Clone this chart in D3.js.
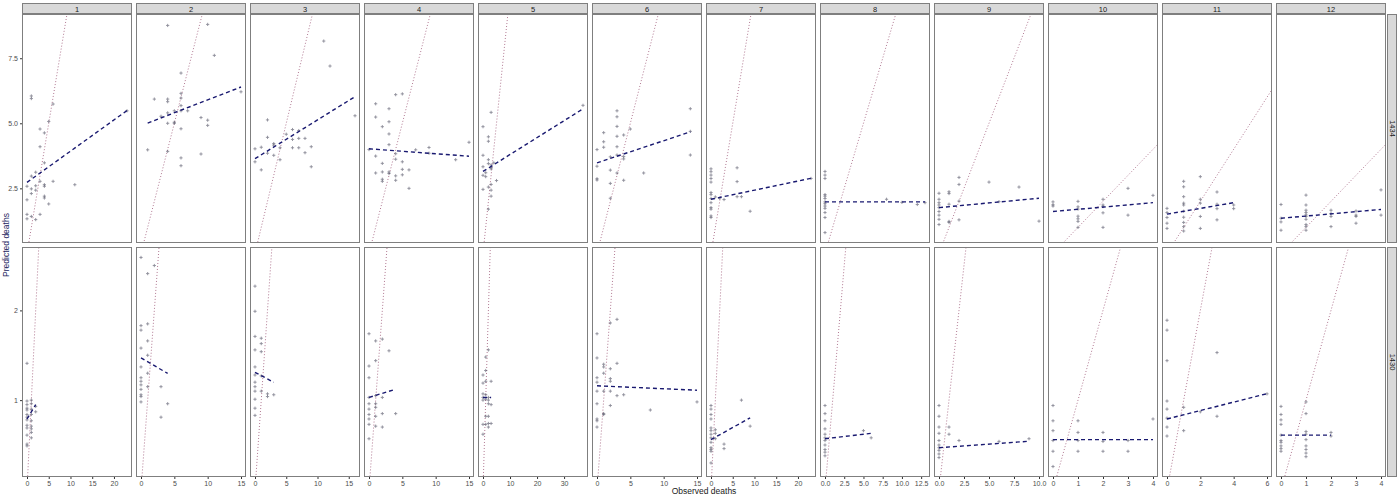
<!DOCTYPE html>
<html>
<head>
<meta charset="utf-8">
<script src="https://cdn.jsdelivr.net/npm/d3@7"></script>
<style>
  body { margin: 0; background: #fff; }
  text { font-family: "Liberation Sans", Arial, sans-serif; }
</style>
</head>
<body>
<svg id="chart" width="1400" height="497"></svg>
<script>
// facet labels
const columns = ["1", "2", "3", "4", "5", "6", "7", "8", "9", "10", "11", "12"];
const rowLabels = ["1434", "1430"];

// tick labels
const xTickLabels = [
  ["0", "5", "10", "15", "20"], ["0", "5", "10", "15"], ["0", "5", "10", "15"], ["0", "5", "10", "15"],
  ["0", "10", "20", "30"], ["0", "5", "10", "15"], ["0", "5", "10", "15", "20"], ["0.0", "2.5", "5.0", "7.5", "10.0", "12.5"],
  ["0.0", "2.5", "5.0", "7.5", "10.0"], ["0", "1", "2", "3", "4"], ["0", "2", "4", "6"], ["0", "1", "2", "3", "4"]
];
const yTickLabels = [["2.5", "5.0", "7.5"], ["1", "2"]];

// points, grouped as [observed, [predicted...]]
const topPoints = [
  [[0, [2.58, 2.06, 1.5, 1.33]], [1, [6.05, 5.95, 2.97, 2.48, 2.3, 1.42]], [2, [3.12, 2.6, 2.43, 1.3]], [3, [4.78, 4.1, 2.77, 1.5]], [4, [4.63, 3.48, 2.64, 2.58, 2.2, 2.13]], [5, [5.07, 1.9]], [6, [5.74, 2.77]], [11, [2.64]], [23, [5.48]]],
  [[1, [3.98]], [2, [5.93]], [3, [5.27]], [4, [8.76, 5.93, 5.83, 5.4, 5.0, 3.92]], [5, [5.48, 5.04, 5.0]], [6, [6.93, 6.15, 5.97, 5.68, 5.48, 4.79, 3.67, 3.37]], [7, [5.48]], [9, [5.22, 3.82]], [10, [8.8, 5.12, 4.92]], [11, [7.61]], [15, [6.21]]],
  [[0, [4.02, 3.52]], [1, [4.08, 3.21]], [2, [5.13, 4.46, 3.85]], [3, [4.22, 4.16, 3.77]], [4, [4.06, 3.6]], [5, [4.58]], [6, [4.76, 4.38, 4.06]], [7, [4.72, 4.42, 4.06]], [8, [4.42, 3.87]], [9, [4.1, 3.33]], [11, [8.16]], [12, [7.2]], [16, [5.29]]],
  [[0, [3.99]], [1, [5.75, 5.24, 3.74, 3.09]], [2, [4.87, 3.46, 3.13, 2.85, 2.77]], [3, [5.56, 5.06, 4.59, 4.18, 3.13, 3.07]], [4, [6.1, 3.83, 3.62, 2.98, 2.81]], [5, [6.13, 3.52, 3.23, 3.02]], [6, [3.21, 2.5]], [7, [3.98]], [9, [4.07, 3.85]], [13, [3.6]], [15, [4.27]]],
  [[0, [4.87, 3.77, 3.33, 3.0, 2.46]], [1, [3.1, 2.95]], [2, [4.48, 4.31, 3.6, 3.45, 2.55, 1.7]], [3, [5.42, 3.4, 3.3, 3.25, 2.65, 2.43, 2.2]], [4, [3.48]], [5, [2.8]], [37, [5.69]]],
  [[0, [3.99, 3.35, 2.87, 2.82]], [1, [4.64, 4.29, 4.08]], [2, [3.71, 3.2, 2.69, 2.12]], [3, [5.48, 5.25, 4.88, 4.5, 4.1, 3.78, 3.09]], [4, [4.55, 3.72, 3.63, 2.81]], [5, [4.78]], [7, [3.09]], [14, [5.56, 4.69, 3.78]]],
  [[0, [3.25, 3.14, 3.01, 2.88, 2.74, 2.34, 2.26, 2.11, 1.95, 1.76, 1.7, 1.44, 1.38]], [1, [2.17]], [2, [2.12]], [3, [2.07]], [6, [3.29, 2.76, 2.18]], [7, [2.18]], [9, [1.62]], [23, [2.88]]],
  [[0, [3.15, 3.01, 2.88, 2.26, 2.2, 2.11, 1.98, 1.91, 1.82, 1.73, 1.57, 1.38, 0.8]], [8, [2.08]], [10, [1.96]], [12, [1.88]], [13, [1.95]]],
  [[0, [2.31, 2.08, 1.95, 1.86, 1.76, 1.61, 1.47, 1.31, 1.11]], [1, [2.37, 2.3, 1.89, 1.23, 1.19]], [2, [2.92, 2.65, 2.01, 1.29]], [5, [2.74]], [6, [1.99]], [8, [2.55]], [10, [1.24]]],
  [[0, [1.98, 1.87, 1.82]], [1, [2.0, 1.79, 1.7, 1.43, 1.33, 1.23, 1.0]], [2, [2.08, 1.86, 1.8, 1.56, 1.0]], [3, [2.5, 1.47]], [4, [2.23]]],
  [[0, [1.73, 1.57, 1.38, 1.16, 0.96]], [1, [2.77, 2.56, 2.18, 1.93, 1.86, 1.62, 1.39, 1.19, 1.03, 0.86]], [2, [2.95, 2.08, 1.93, 1.42, 0.96]], [3, [2.36, 1.89, 1.72, 1.29]], [4, [1.86, 1.72]]],
  [[0, [1.88, 1.35, 1.21, 0.89]], [1, [2.24, 1.86, 1.66, 1.57, 1.48, 1.42, 1.31, 1.11, 1.03, 0.89]], [2, [1.66, 1.53, 1.42, 1.03]], [3, [1.63, 1.47, 1.42, 1.16]], [4, [2.44, 1.47]]]
];

const bottomPoints = [
  [[0, [1.41, 0.99, 0.95, 0.91, 0.89, 0.84, 0.81, 0.78, 0.72, 0.69, 0.61, 0.51, 0.49]], [1, [1.0, 0.96, 0.9, 0.84, 0.77, 0.71, 0.68, 0.64, 0.58]], [2, [0.93, 0.87]]],
  [[0, [2.59, 1.83, 1.78, 1.58, 1.37, 1.25, 1.21, 1.17, 1.12, 1.06, 1.04, 0.98]], [1, [2.41, 1.85, 1.66, 1.5, 1.3, 1.15]], [2, [2.5]], [3, [1.15, 0.81]], [4, [0.96]]],
  [[0, [2.27, 1.99, 1.71, 1.56, 1.37, 1.28, 1.2, 1.15, 1.1, 1.01, 0.91, 0.83]], [1, [1.69, 1.63, 1.54, 1.27, 1.1]], [2, [1.07, 1.04]], [3, [1.06]]],
  [[0, [1.74, 1.38, 1.25, 1.03, 0.96, 0.9, 0.84, 0.79, 0.73, 0.57]], [1, [1.66, 1.44, 1.05, 0.96, 0.92, 0.82, 0.71]], [2, [1.68, 1.03, 0.85, 0.7]], [3, [1.55]], [4, [0.85]]],
  [[0, [1.28, 1.19, 1.07, 1.03, 1.0, 0.73, 0.62]], [1, [1.48, 1.33, 1.21, 1.06, 1.01, 0.82, 0.73]], [2, [1.56, 1.03, 1.0, 0.96, 0.82, 0.74, 0.7]], [3, [1.21, 0.95, 0.74]]],
  [[0, [1.74, 1.47, 1.25, 1.2, 1.1, 0.96, 0.79, 0.77, 0.7]], [1, [1.4, 1.37, 1.3, 1.1, 0.85, 0.84]], [2, [1.86, 1.35, 1.24, 1.21, 1.1, 0.94]], [3, [1.9, 1.41, 1.05]], [4, [1.06]], [8, [0.89]], [15, [0.98]]],
  [[0, [0.94, 0.9, 0.84, 0.79, 0.69, 0.66, 0.62, 0.58, 0.53, 0.47, 0.45, 0.43, 0.3]], [1, [0.67, 0.63, 0.57]], [3, [0.51, 0.46]], [7, [1.0]], [9, [0.71]]],
  [[0, [0.94, 0.85, 0.77, 0.68, 0.62, 0.58, 0.55, 0.5, 0.45, 0.42, 0.38]], [5, [0.66]], [6, [0.58]]],
  [[0, [0.94, 0.82, 0.7, 0.63, 0.55, 0.5, 0.47, 0.44, 0.4, 0.36]], [1, [0.7, 0.62]], [2, [0.55]], [6, [0.54]], [9, [0.57]]],
  [[0, [0.94, 0.77, 0.66, 0.55, 0.43, 0.26]], [1, [0.77, 0.64, 0.55, 0.43]], [2, [0.64, 0.54, 0.43]], [3, [0.55, 0.43]], [4, [0.79]]],
  [[0, [1.89, 1.78, 1.44, 0.99, 0.9, 0.8, 0.7, 0.6]], [1, [0.92, 0.66]], [2, [0.87]], [3, [1.53, 0.82]], [6, [1.07]]],
  [[0, [0.93, 0.84, 0.78, 0.73, 0.61, 0.55, 0.53, 0.49, 0.46, 0.43]], [1, [0.98, 0.85, 0.65, 0.62, 0.56, 0.49, 0.45, 0.41, 0.37]], [2, [0.64, 0.6]]]
];

// linear fits as [intercept, slope]
const topFits = [[2.73, 0.12], [4.91, 0.099], [3.64, 0.149], [4.02, -0.019], [3.15, 0.065], [3.48, 0.085],
  [2.08, 0.035], [1.98, 0], [1.76, 0.036], [1.61, 0.085], [1.51, 0.11], [1.35, 0.085]];
const bottomFits = [[0.79, 0.08], [1.47, -0.043], [1.31, -0.037], [1.03, 0.023], [1.03, 0], [1.16, -0.0033],
  [0.56, 0.027], [0.57, 0.01], [0.47, 0.008], [0.56, 0], [0.79, 0.047], [0.61, 0]];

const svg = d3.select("#chart");
let left = 22, panelW = 110, step = 114;
let rowTop = [14, 247], rowH = [229, 230];
let stripTop = 3, stripH = 10;

function flat(groups) {
  let out = [];
  groups.forEach(g => g[1].forEach(y => out.push([g[0], y])));
  return out;
}
function expand(ext) {
  let d = (ext[1] - ext[0]) * 0.05;
  return [ext[0] - d, ext[1] + d];
}

let rowsData = [topPoints.map(flat), bottomPoints.map(flat)];
let fits = [topFits, bottomFits];

let yScales = rowsData.map((rd, r) => {
  let all = rd.flat();
  return d3.scaleLinear()
    .domain(expand(d3.extent(all, d => d[1])))
    .range([rowTop[r] + rowH[r], rowTop[r]]);
});
let xScales = columns.map((c, i) => {
  let all = rowsData[0][i].concat(rowsData[1][i]);
  return d3.scaleLinear()
    .domain(expand(d3.extent(all, d => d[0])))
    .range([left + i * step, left + i * step + panelW]);
});

let defs = svg.append("defs");
let plus = "M-1.6,0H1.6M0,-1.6V1.6";

// column strips
columns.forEach((c, i) => {
  let x0 = left + i * step;
  svg.append("rect").attr("x", x0 + 0.5).attr("y", stripTop + 0.5)
    .attr("width", panelW - 1).attr("height", stripH)
    .attr("fill", "#d9d9d9").attr("stroke", "#7f7f7f");
  svg.append("text").attr("x", x0 + panelW / 2).attr("y", stripTop + stripH / 2 + 3.5)
    .attr("text-anchor", "middle").attr("font-size", 7.5).attr("fill", "#1a1a1a").text(c);
});

// row strips
rowLabels.forEach((lab, r) => {
  let x0 = left + 12 * step - step + panelW + 1;
  svg.append("rect").attr("x", x0 + 0.5).attr("y", rowTop[r] + 0.5)
    .attr("width", 9).attr("height", rowH[r] - 1)
    .attr("fill", "#d9d9d9").attr("stroke", "#7f7f7f");
  svg.append("text")
    .attr("transform", `translate(${x0 + 2.5},${rowTop[r] + rowH[r] / 2}) rotate(90)`)
    .attr("text-anchor", "middle").attr("font-size", 7.5).attr("fill", "#1a1a1a").text(lab);
});

// panels
rowsData.forEach((rd, r) => {
  let y = yScales[r];
  rd.forEach((pts, i) => {
    let x = xScales[i];
    let id = "clip" + r + "_" + i;
    defs.append("clipPath").attr("id", id).append("rect")
      .attr("x", x.range()[0]).attr("y", rowTop[r]).attr("width", panelW).attr("height", rowH[r]);
    let g = svg.append("g").attr("clip-path", "url(#" + id + ")");

    // identity line
    let lo = Math.min(x.domain()[0], y.domain()[0]), hi = Math.max(x.domain()[1], y.domain()[1]);
    g.append("line")
      .attr("x1", x(lo)).attr("y1", y(lo)).attr("x2", x(hi)).attr("y2", y(hi))
      .attr("stroke", "#a86a86").attr("stroke-width", 0.9).attr("stroke-dasharray", "1,2");

    // points
    g.selectAll("path.pt").data(pts).enter().append("path")
      .attr("class", "pt")
      .attr("d", plus)
      .attr("transform", d => `translate(${x(d[0])},${y(d[1])})`)
      .attr("stroke", "#5c5c6e").attr("stroke-width", 0.9).attr("opacity", 0.7);

    // fitted line over the panel's observed range
    let ext = d3.extent(pts, d => d[0]);
    let f = fits[r][i];
    g.append("line")
      .attr("x1", x(ext[0])).attr("y1", y(f[0] + f[1] * ext[0]))
      .attr("x2", x(ext[1])).attr("y2", y(f[0] + f[1] * ext[1]))
      .attr("stroke", "#191970").attr("stroke-width", 1.4).attr("stroke-dasharray", "4,3");

    svg.append("rect")
      .attr("x", x.range()[0] + 0.5).attr("y", rowTop[r] + 0.5)
      .attr("width", panelW - 1).attr("height", rowH[r] - 1)
      .attr("fill", "none").attr("stroke", "#7f7f7f");
  });

  // y axis
  let labs = yTickLabels[r];
  let ax = svg.append("g").attr("transform", `translate(${left},0)`)
    .call(d3.axisLeft(y).tickValues(labs.map(Number)).tickSize(2).tickPadding(2)
      .tickFormat((d, k) => labs[k]));
  ax.select(".domain").remove();
  ax.selectAll("line").attr("stroke", "#333");
  ax.selectAll("text").attr("font-size", 7).attr("fill", "#4d4d4d").attr("font-family", "Liberation Sans, Arial, sans-serif");
});

// x axes under bottom row
xScales.forEach((x, i) => {
  let labs = xTickLabels[i];
  let ax = svg.append("g").attr("transform", `translate(0,${rowTop[1] + rowH[1]})`)
    .call(d3.axisBottom(x).tickValues(labs.map(Number)).tickSize(2).tickPadding(2)
      .tickFormat((d, k) => labs[k]));
  ax.select(".domain").remove();
  ax.selectAll("line").attr("stroke", "#333");
  ax.selectAll("text").attr("font-size", 7).attr("fill", "#4d4d4d").attr("font-family", "Liberation Sans, Arial, sans-serif");
});

// axis titles
svg.append("text").attr("x", 704).attr("y", 494).attr("text-anchor", "middle")
  .attr("font-size", 8.5).attr("fill", "#1a1a1a").text("Observed deaths");
svg.append("text").attr("transform", "translate(9,245) rotate(-90)").attr("text-anchor", "middle")
  .attr("font-size", 8.5).attr("fill", "#1d2660").text("Predicted deaths");
</script>
</body>
</html>
